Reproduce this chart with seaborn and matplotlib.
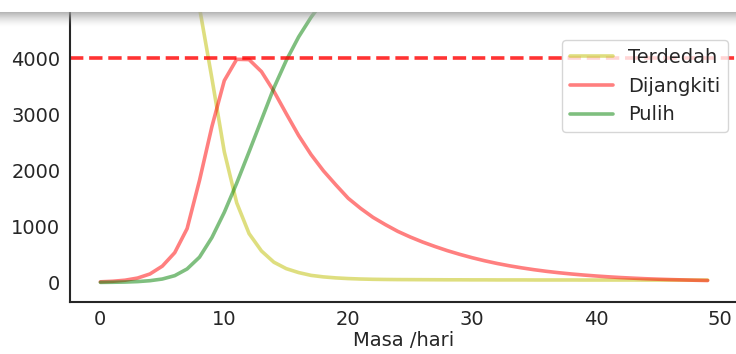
import numpy as np
import pandas as pd
import matplotlib
matplotlib.use("Agg")
import matplotlib.pyplot as plt
import seaborn as sns

# ---- data ----
days = list(range(50))

terdedah = [6990, 6978, 6955, 6909, 6820, 6650, 6350, 5800, 4900, 3640,
            2330, 1420, 870, 560, 360, 245, 175, 125, 98, 80,
            68, 60, 55, 52, 50, 49, 48, 47, 46, 46,
            45, 45, 44, 44, 44, 43, 43, 43, 43, 42,
            42, 42, 42, 42, 41, 41, 41, 41, 41, 41]

dijangkiti = [10, 20, 39, 77, 150, 290, 530, 960, 1820, 2780,
              3600, 3980, 3975, 3760, 3410, 3010, 2620, 2280, 1990, 1740,
              1500, 1320, 1160, 1030, 910, 810, 720, 640, 566, 500,
              440, 386, 338, 296, 259, 226, 197, 172, 150, 131,
              114, 99, 86, 75, 65, 57, 50, 44, 38, 33]

pulih = [0, 2, 6, 14, 30, 60, 120, 240, 450, 800,
         1250, 1770, 2330, 2900, 3470, 3960, 4380, 4730, 5030, 5290,
         5520, 5720, 5900, 6060, 6200, 6320, 6430, 6520, 6600, 6670,
         6730, 6780, 6825, 6865, 6900, 6930, 6955, 6978, 6998, 7015,
         7030, 7043, 7055, 7065, 7074, 7082, 7089, 7095, 7100, 7104]

had = 4000
series_names = ["Terdedah", "Dijangkiti", "Pulih"]
series_colors = ["y", "r", "g"]

# ---- figure ----
sns.set_style("white")
plt.rcParams["font.family"] = ["DejaVu Sans"]

W, H, DPI = 736, 354, 100
fig = plt.figure(figsize=(W / DPI, H / DPI), dpi=DPI)

# axes placed in pixels; the top and right edges fall outside the picture (cropped look)
left_px, right_px = 70, 738
bottom_px_from_top = 302
ylo, yhi = -350, 7350
px_per_unit = 0.05605
height_px = (yhi - ylo) * px_per_unit
ax = fig.add_axes([left_px / W, (H - bottom_px_from_top) / H,
                   (right_px - left_px) / W, height_px / H])

df = pd.DataFrame({"Masa": days, "Terdedah": terdedah,
                   "Dijangkiti": dijangkiti, "Pulih": pulih})
for name, col in zip(series_names, series_colors):
    sns.lineplot(data=df, x="Masa", y=name, color=col, alpha=0.5, lw=2.6,
                 label=name, ax=ax)

ax.axhline(had, color="r", ls="--", alpha=0.8, lw=2.6)

ax.set_ylim(ylo, yhi)
ax.set_xlim(-2.45, 51.45)
ax.set_xticks([0, 10, 20, 30, 40, 50])
ax.set_yticks([0, 1000, 2000, 3000, 4000])
ax.tick_params(axis="both", labelsize=14, colors=".15")
ax.tick_params(axis="x", pad=2.5)
ax.tick_params(axis="y", pad=3.5)
ax.set_xlabel("Masa /hari", fontsize=14, color=".15", labelpad=1)
ax.set_ylabel("")
for s in ax.spines.values():
    s.set_color(".15")
    s.set_linewidth(1.5)

ax.legend(loc="center right", fontsize=14, frameon=True, handlelength=2.2)

# top band of the screenshot: white strip then a soft grey shadow
band = fig.add_axes([0, (H - 27) / H, 1, 27 / H], zorder=10)
band.axis("off")
rows = 27
img = np.ones((rows, 2, 4))
for i in range(rows):
    if i < 12:
        img[i, :, :3] = 1.0
        img[i, :, 3] = 1.0
    else:
        f = (i - 12) / 15.0
        img[i, :, :3] = 0.62
        img[i, :, 3] = 0.75 * (1 - f) ** 1.6
band.imshow(img, aspect="auto", extent=[0, 1, 0, 1], interpolation="bilinear")

fig.savefig("out.png", dpi=DPI)
